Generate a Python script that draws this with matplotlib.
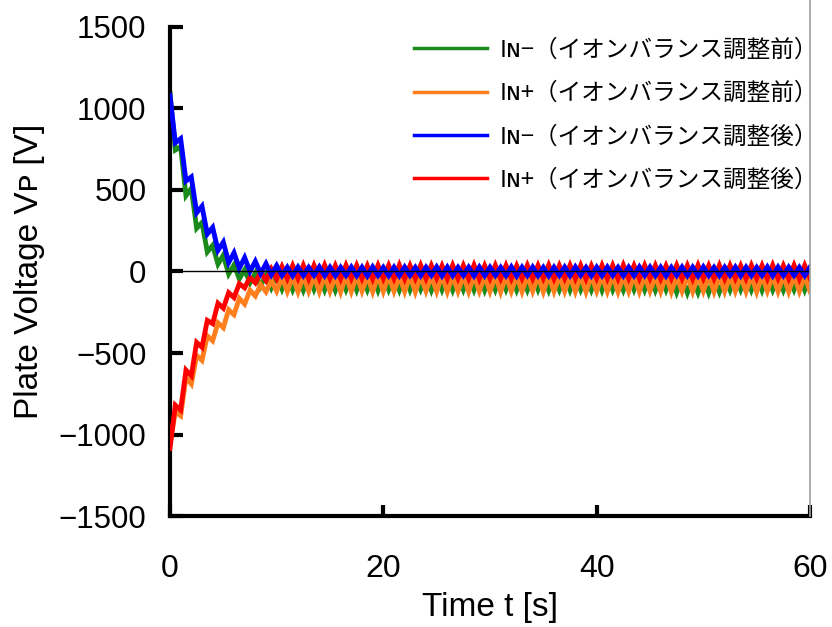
import numpy as np
import matplotlib
matplotlib.use("Agg")
import matplotlib.pyplot as plt
from matplotlib.lines import Line2D

# ---------------- data ----------------
# sampling every half period (period ~1 s), 0..60 s
t_max = 60
labels = ["Iɴ−（イオンバランス調整前）", "Iɴ+（イオンバランス調整前）",
          "Iɴ−（イオンバランス調整後）", "Iɴ+（イオンバランス調整後）"]
colors = ["#1a8a1a", "#ff7f1e", "#0000ff", "#ff0000"]

# IN- before adjustment (green): start, then per-cycle trough / peak
green_start = 1095
green_troughs = [745, 465, 265, 120, 45, -15, -45, -70, -90, -100,
                 -108, -112, -115, -110, -114, -116, -112, -115, -113, -117,
                 -112, -115, -114, -110, -116, -113, -115, -112, -114, -116,
                 -113, -111, -115, -114, -112, -116, -113, -115, -112, -114,
                 -116, -113, -115, -112, -114, -116, -113, -128, -132, -130,
                 -131, -126, -115, -112, -114, -116, -113, -115, -112, -114]
green_peaks = [765, 510, 300, 160, 100, 40, 10, -10, -20, -25,
               -28, -30, -27, -29, -31, -28, -30, -27, -29, -28,
               -30, -27, -29, -31, -28, -30, -27, -29, -28, -30,
               -27, -29, -31, -28, -30, -27, -29, -28, -30, -27,
               -29, -31, -28, -30, -27, -29, -28, -40, -45, -42,
               -44, -38, -29, -28, -30, -27, -29, -31, -28, -30]

# IN+ before adjustment (orange): start, then per-cycle peak / trough
orange_start = -1060
orange_peaks = [-860, -650, -515, -395, -315, -235, -165, -115, -80, -55,
                -35, -28, -25, -27, -24, -26, -25, -23, -26, -24,
                -25, -27, -24, -26, -25, -23, -26, -24, -25, -27,
                -24, -26, -25, -23, -26, -24, -25, -27, -24, -26,
                -25, -23, -26, -24, -25, -27, -24, -26, -25, -23,
                -26, -24, -25, -27, -24, -26, -25, -23, -26, -24]
orange_troughs = [-885, -690, -545, -425, -345, -265, -200, -150, -125, -120,
                  -122, -124, -120, -123, -121, -125, -122, -120, -124, -122,
                  -121, -123, -125, -120, -122, -124, -121, -123, -120, -122,
                  -125, -121, -123, -120, -124, -122, -121, -123, -125, -120,
                  -122, -124, -121, -123, -120, -122, -125, -121, -123, -120,
                  -124, -122, -121, -123, -125, -120, -122, -124, -121, -123]

# IN- after adjustment (blue): start, then per-cycle trough / peak
blue_start = 1080
blue_troughs = [790, 555, 360, 230, 130, 55, 20, 0, -12, -20,
                -24, -26, -25, -23, -25, -26, -24, -25, -27, -24,
                -25, -26, -24, -25, -23, -26, -25, -24, -26, -25,
                -24, -25, -27, -24, -25, -26, -24, -25, -23, -26,
                -25, -24, -26, -25, -24, -25, -27, -24, -25, -26,
                -24, -25, -23, -26, -25, -24, -26, -25, -24, -25]
blue_peaks = [815, 580, 400, 270, 180, 115, 85, 62, 48, 36,
              26, 27, 25, 28, 26, 25, 27, 26, 28, 25,
              26, 27, 25, 26, 28, 27, 25, 26, 27, 26,
              25, 28, 26, 27, 25, 26, 27, 28, 25, 26,
              27, 25, 26, 28, 27, 26, 25, 27, 26, 28,
              25, 26, 27, 26, 25, 28, 27, 26, 25, 27]

# IN+ after adjustment (red): start, then per-cycle peak / trough
red_start = -1085
red_peaks = [-820, -605, -435, -300, -195, -130, -75, -37, -5, 15,
             30, 36, 38, 37, 39, 36, 38, 37, 35, 38,
             37, 39, 36, 38, 37, 35, 38, 37, 39, 36,
             38, 37, 35, 38, 37, 39, 36, 38, 37, 35,
             38, 37, 39, 36, 38, 37, 35, 38, 37, 39,
             36, 38, 37, 35, 38, 37, 39, 36, 38, 37]
red_troughs = [-850, -640, -465, -320, -225, -160, -100, -70, -55, -45,
               -43, -42, -44, -43, -41, -44, -42, -43, -45, -42,
               -43, -44, -42, -43, -41, -44, -42, -43, -45, -42,
               -43, -44, -42, -43, -41, -44, -42, -43, -45, -42,
               -43, -44, -42, -43, -41, -44, -42, -43, -45, -42,
               -43, -44, -42, -43, -41, -44, -42, -43, -45, -42]

y_ticks = [-1500, -1000, -500, 0, 500, 1000, 1500]
x_ticks = [0, 20, 40, 60]


def build(start, first, second):
    vals = [start]
    for a, b in zip(first, second):
        vals += [a, b]
    return np.array(vals, dtype=float)


series = [build(green_start, green_troughs, green_peaks),
          build(orange_start, orange_peaks, orange_troughs),
          build(blue_start, blue_troughs, blue_peaks),
          build(red_start, red_peaks, red_troughs)]
t = np.linspace(0, t_max, len(series[0]))

# ---------------- figure ----------------
plt.rcParams['font.family'] = ['Liberation Sans', 'DejaVu Sans']
fig = plt.figure(figsize=(8.32, 6.27), dpi=100)
ax = fig.add_axes([0.2043, 0.177, 0.7693, 0.780])

zorders = [2, 3, 5, 4]
for y, c, z in zip(series, colors, zorders):
    ax.plot(t, y, color=c, lw=3.5, zorder=z, solid_joinstyle='miter')

ax.axhline(0, color='black', lw=1.0, zorder=6)

ax.set_xlim(0, 60)
ax.set_ylim(-1500, 1500)
ax.set_xticks(x_ticks)
ax.set_yticks(y_ticks)
ax.set_yticklabels([f"{v}".replace('-', '−') for v in y_ticks])

for s in ['left', 'bottom']:
    ax.spines[s].set_linewidth(3)
    ax.spines[s].set_color('black')
ax.spines['top'].set_visible(False)
ax.spines['right'].set_visible(False)
# thin grey border line on the right, running up to the top of the figure
fig.add_artist(Line2D([0.9736, 0.9736], [0.177, 1.0], transform=fig.transFigure,
                      color='#a0a0a0', lw=1.2))

ax.tick_params(axis='y', direction='in', length=9, width=3, labelsize=22.5, pad=17)
ax.tick_params(axis='x', direction='in', length=8, width=3, labelsize=23, pad=27)

ax.set_ylabel("Plate Voltage Vᴘ [V]", fontsize=24, labelpad=10)
ax.set_xlabel("Time t [s]", fontsize=24, labelpad=6)

handles = [Line2D([], [], color=c, lw=2.5) for c in colors]
leg = ax.legend(handles, labels, loc='upper right', bbox_to_anchor=(1.022, 0.988),
                frameon=False, handlelength=3.1, handletextpad=0.55,
                labelspacing=0.86, borderaxespad=0.0, borderpad=0.25,
                prop={'family': ['Noto Sans CJK JP', 'DejaVu Sans'], 'size': 17})

fig.savefig("out.png", dpi=100)
